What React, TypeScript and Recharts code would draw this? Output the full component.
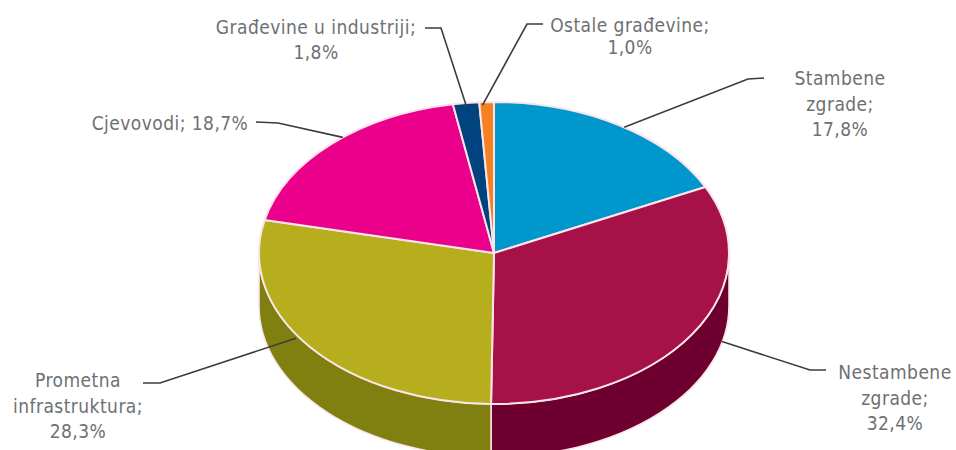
import { Pie, PieChart } from "recharts";

const categories = [
  "Stambene zgrade",
  "Nestambene zgrade",
  "Prometna infrastruktura",
  "Cjevovodi",
  "Građevine u industriji",
  "Ostale građevine",
];
const shares = [17.8, 32.4, 28.3, 18.7, 1.8, 1.0];
const topColors = ["#0098CC", "#A61247", "#B7AE1D", "#EB008B", "#00437F", "#F58220"];
const wallColors = ["#006F96", "#6E0030", "#808010", "#A00060", "#002A50", "#B05C10"];

const labelLines = [
  ["Stambene", "zgrade;", "17,8%"],
  ["Nestambene", "zgrade;", "32,4%"],
  ["Prometna", "infrastruktura;", "28,3%"],
  ["Cjevovodi; 18,7%"],
  ["Građevine u industriji;", "1,8%"],
  ["Ostale građevine;", "1,0%"],
];

// where each callout sits: text centre, first line y, line gap, elbow and line end
const callouts = [
  { x: 840, y: 78, gap: 25.5, shift: 1.6, drop: 0, elbow: [748, 79], end: [764, 78] },
  { x: 895, y: 372, gap: 25.5, shift: -18.4, drop: 52, elbow: [810, 370], end: [826, 370] },
  { x: 78, y: 380, gap: 25.5, shift: 5.8, drop: 4, elbow: [160, 383], end: [143, 383] },
  { x: 170, y: 123, gap: 25.5, shift: 3.7, drop: 0, elbow: [278, 123], end: [256, 122] },
  { x: 316, y: 27, gap: 25, shift: 0, drop: 2, elbow: [441, 28], end: [425, 28] },
  { x: 630, y: 25, gap: 22, shift: -1, drop: 3, elbow: [527, 24], end: [543, 24] },
];

const tableData = categories.map((name, i) => ({
  name,
  share: shares[i],
  top: topColors[i],
  wall: wallColors[i],
}));

const RX = 235;
const RY = 151;
const DEPTH = 53;
const RAD = Math.PI / 180;

function pt(cx: number, cy: number, deg: number) {
  return [cx + RX * Math.cos(deg * RAD), cy - RY * Math.sin(deg * RAD)];
}

function TopSlice(props: any) {
  const { cx, cy, startAngle, endAngle, payload } = props;
  const [x0, y0] = pt(cx, cy, startAngle);
  const [x1, y1] = pt(cx, cy, endAngle);
  const large = Math.abs(startAngle - endAngle) > 180 ? 1 : 0;
  const d = `M${cx},${cy}L${x0},${y0}A${RX},${RY} 0 ${large} 1 ${x1},${y1}Z`;
  return <path d={d} fill={payload.top} stroke="#FBE4EA" strokeWidth={2} strokeLinejoin="round" />;
}

function WallSlice(props: any) {
  const { cx, cy, startAngle, endAngle, payload } = props;
  // only the front half of the rim shows
  const from = Math.min(startAngle, 0);
  const to = Math.max(endAngle, -180);
  if (from <= to) return <g />;
  const [x0, y0] = pt(cx, cy, from);
  const [x1, y1] = pt(cx, cy, to);
  const d =
    `M${x0},${y0}A${RX},${RY} 0 0 1 ${x1},${y1}` +
    `L${x1},${y1 + DEPTH}A${RX},${RY} 0 0 0 ${x0},${y0 + DEPTH}Z`;
  return <path d={d} fill={payload.wall} stroke="#FBE4EA" strokeWidth={1.6} />;
}

function Callout(props: any) {
  const { cx, cy, midAngle, index } = props;
  const c = callouts[index];
  const [ax, ay] = pt(cx, cy, midAngle - c.shift);
  return (
    <g>
      <polyline
        points={`${ax},${ay + c.drop} ${c.elbow[0]},${c.elbow[1]} ${c.end[0]},${c.end[1]}`}
        fill="none"
        stroke="#3C3C3C"
        strokeWidth={1.6}
      />
      {labelLines[index].map((line, i) => (
        <text
          key={line}
          x={c.x}
          y={c.y + i * c.gap}
          textAnchor="middle"
          dominantBaseline="central"
          fontFamily='"Liberation Sans Narrow", "DejaVu Sans Condensed", Roboto, sans-serif'
          fontSize={19}
          letterSpacing={0.45}
          fill="#6E7073"
        >
          {line}
        </text>
      ))}
    </g>
  );
}

export default function App() {
  return (
    <div style={{ position: "absolute", left: 0, top: 0, width: 956, height: 450, background: "#fff" }}>
      <PieChart width={956} height={450} margin={{ top: 0, right: 0, bottom: 0, left: 0 }}>
        <Pie
          data={tableData}
          dataKey="share"
          nameKey="name"
          cx={494}
          cy={253}
          outerRadius={RX}
          startAngle={90}
          endAngle={-270}
          shape={WallSlice}
          isAnimationActive={false}
        />
        <Pie
          data={tableData}
          dataKey="share"
          nameKey="name"
          cx={494}
          cy={253}
          outerRadius={RX}
          startAngle={90}
          endAngle={-270}
          shape={TopSlice}
          label={Callout}
          labelLine={false}
          isAnimationActive={false}
        />
      </PieChart>
    </div>
  );
}
